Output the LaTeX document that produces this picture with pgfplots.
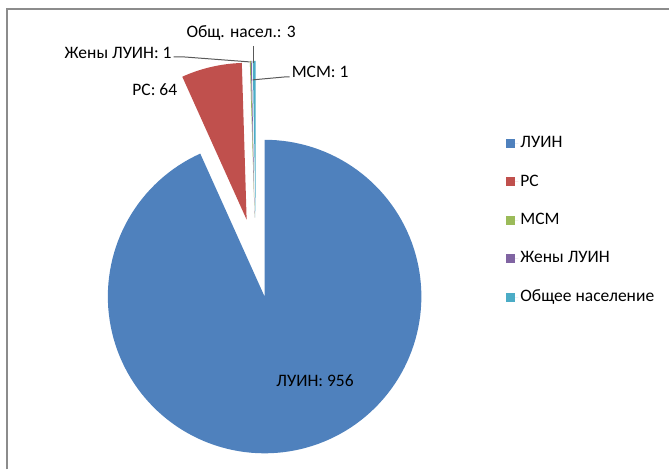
\documentclass[border=0pt]{standalone}
\usepackage{fontspec}
\setmainfont{Carlito}
\usepackage{pgfplots}
\pgfplotsset{compat=1.18}
\definecolor{cA}{HTML}{4F81BD}
\definecolor{cB}{HTML}{C0504D}
\definecolor{cC}{HTML}{9BBB59}
\definecolor{cD}{HTML}{8064A2}
\definecolor{cE}{HTML}{4BACC6}
\definecolor{frame}{HTML}{8C8C8C}
\definecolor{lead}{HTML}{595959}
% values
\def\vA{956}\def\vB{64}\def\vC{1}\def\vD{1}\def\vE{3}
\pgfmathsetmacro\tot{\vA+\vB+\vC+\vD+\vE}
\pgfmathsetmacro\aA{\vA/\tot*360}
\pgfmathsetmacro\aB{\aA+\vB/\tot*360}
\pgfmathsetmacro\aC{\aB+\vC/\tot*360}
\pgfmathsetmacro\aD{\aC+\vD/\tot*360}
\def\cx{265}\def\cy{173}\def\R{157}
\begin{document}
\fontsize{17.5bp}{21bp}\selectfont
\begin{tikzpicture}
\begin{axis}[width=670bp, height=470bp, scale only axis,
  xmin=0, xmax=670, ymin=0, ymax=470, hide axis, clip=false,
  legend image code/.code={\fill[#1] (0bp,-4.5bp) rectangle (9bp,4.5bp); \path (0bp,0bp) -- (12bp,0bp);},
  legend style={at={(axis cs:507,335.5)}, anchor=north west, draw=none, fill=none,
    font=\fontsize{17.5bp}{21bp}\selectfont, row sep=20.5bp,
    legend cell align=left, inner sep=0pt},
  ]
\path (axis cs:0,0) -- (axis cs:670,470);
% ЛУИН
\addplot[fill=cA, draw=none, domain=0:\aA, samples=150, variable=\t]
  ({\cx+\R*sin(t)},{\cy+\R*cos(t)}) -- (axis cs:\cx,\cy) -- cycle;
\addlegendentry{ЛУИН}
% РС (exploded)
\addplot[fill=cB, draw=none, domain=\aA:\aB, samples=30, variable=\t]
  ({\cx-18+\R*sin(t)},{\cy+77+\R*cos(t)}) -- (axis cs:\cx-18,\cy+77) -- cycle;
\addlegendentry{РС}
% МСМ
\addplot[fill=cC, draw=none, domain=\aB:\aC, samples=3, variable=\t]
  ({\cx-10+\R*sin(t)},{\cy+79+\R*cos(t)}) -- (axis cs:\cx-10,\cy+79) -- cycle;
\addlegendentry{МСМ}
% Жены ЛУИН
\addplot[fill=cD, draw=none, domain=\aC:\aD, samples=3, variable=\t]
  ({\cx-10+\R*sin(t)},{\cy+79+\R*cos(t)}) -- (axis cs:\cx-10,\cy+79) -- cycle;
\addlegendentry{Жены ЛУИН}
% Общее население
\addplot[fill=cE, draw=none, domain=\aD:360, samples=5, variable=\t]
  ({\cx-9+\R*sin(t)},{\cy+79+\R*cos(t)}) -- (axis cs:\cx-9,\cy+79) -- cycle;
\addlegendentry{Общее население}
% frame
\draw[frame, line width=2bp] (axis cs:7.5,0) -- (axis cs:7.5,460.5) -- (axis cs:670,460.5);
% leader lines
\draw[lead, line width=1bp] (axis cs:174,413) -- (axis cs:184,413) -- (axis cs:250,408);
\draw[lead, line width=1bp] (axis cs:254,424) -- (axis cs:254,407);
\draw[lead, line width=1bp] (axis cs:253,390) -- (axis cs:286,393) -- (axis cs:290,393);
% data labels
\node[inner sep=0pt] at (axis cs:315.5,89) {ЛУИН: 956};
\node[inner sep=0pt] at (axis cs:155,380) {РС: 64};
\node[inner sep=0pt, anchor=east] at (axis cs:172,417) {Жены ЛУИН: 1};
\node[inner sep=0pt] at (axis cs:241.5,437) {Общ. насел.: 3};
\node[inner sep=0pt, anchor=west] at (axis cs:292,398) {МСМ: 1};
\end{axis}
\end{tikzpicture}
\end{document}
